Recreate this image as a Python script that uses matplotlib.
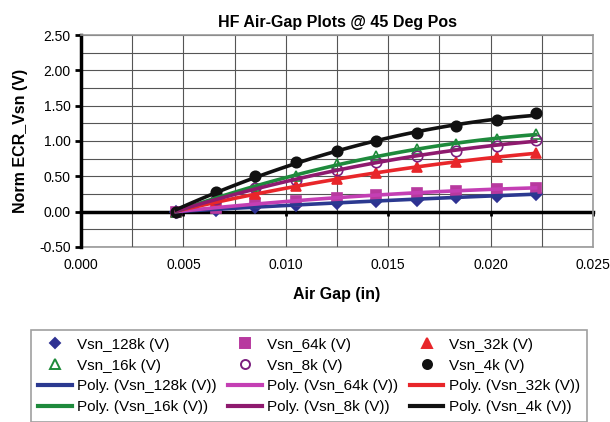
import numpy as np
import matplotlib.pyplot as plt
from matplotlib.ticker import MultipleLocator, FixedLocator, FormatStrFormatter
from matplotlib.lines import Line2D

plt.rcParams['font.family'] = ['Liberation Sans', 'DejaVu Sans']

# air gap (in)
air_gap = [0.00465, 0.0066, 0.0085, 0.0105, 0.0125, 0.0144, 0.0164, 0.0183, 0.0203, 0.0222]

vsn_128k = [0.0, 0.03, 0.07, 0.10, 0.12, 0.15, 0.17, 0.21, 0.22, 0.25]
vsn_64k = [0.0, 0.05, 0.12, 0.15, 0.20, 0.24, 0.26, 0.29, 0.32, 0.34]
vsn_32k = [0.0, 0.14, 0.25, 0.36, 0.46, 0.55, 0.63, 0.70, 0.77, 0.83]
vsn_16k = [0.0, 0.20, 0.37, 0.50, 0.67, 0.79, 0.88, 0.96, 1.03, 1.10]
vsn_8k = [0.0, 0.18, 0.33, 0.45, 0.59, 0.70, 0.79, 0.86, 0.93, 1.01]
vsn_4k = [0.0, 0.28, 0.51, 0.70, 0.86, 1.00, 1.11, 1.21, 1.30, 1.39]

x_ticks = [0.000, 0.005, 0.010, 0.015, 0.020, 0.025]

series = [
    ('Vsn_128k (V)', vsn_128k, 'D', '#2E3192', '#2E3192', '#2B3990'),
    ('Vsn_64k (V)', vsn_64k, 's', '#B8399F', '#B8399F', '#C43FB4'),
    ('Vsn_32k (V)', vsn_32k, '^', '#E8262A', '#E8262A', '#E8262A'),
    ('Vsn_16k (V)', vsn_16k, '^', '#1E8B3A', 'none', '#1E8A3C'),
    ('Vsn_8k (V)', vsn_8k, 'o', '#7B1F7F', 'none', '#8E1A6E'),
    ('Vsn_4k (V)', vsn_4k, 'o', '#111111', '#111111', '#111111'),
]

fig = plt.figure(figsize=(6.1, 4.22), dpi=100)
ax = fig.add_axes([81 / 610, 1 - 247 / 422, 512 / 610, 212 / 422])

x = np.array(air_gap)
pt_handles = []
ln_handles = []
for name, vals, mk, ec, fc, lc in series:
    ms = 6.5 if mk == 'D' else 7.5
    ax.plot(x, vals, linestyle='none', marker=mk, markersize=ms,
            markeredgecolor=ec, markerfacecolor=fc, markeredgewidth=1.2, zorder=3)
    # Excel style 2nd order poly trendline
    coef = np.polyfit(x, vals, 2)
    xs = np.linspace(x[0], x[-1], 100)
    ax.plot(xs, np.polyval(coef, xs), color=lc, lw=2.6, zorder=4)
    pt_handles.append(Line2D([], [], linestyle='none', marker=mk, markersize=ms - 1,
                             markeredgecolor=ec, markerfacecolor=fc, markeredgewidth=1.4))
    ln_handles.append(Line2D([], [], color=lc, lw=3))

ax.set_xlim(0, 0.025)
ax.set_ylim(-0.5, 2.5)

ax.yaxis.set_major_locator(MultipleLocator(0.5))
ax.yaxis.set_minor_locator(MultipleLocator(0.25))
ax.yaxis.set_major_formatter(FormatStrFormatter('%.2f'))
ax.xaxis.set_major_locator(FixedLocator(x_ticks))
ax.xaxis.set_minor_locator(MultipleLocator(0.0025))
ax.grid(True, which='both', color='#555555', lw=0.8, zorder=0)
ax.set_axisbelow(True)

ax.spines['left'].set_color('black')
ax.spines['left'].set_linewidth(2.5)
ax.spines['bottom'].set_position(('data', 0))
ax.spines['bottom'].set_color('black')
ax.spines['bottom'].set_linewidth(2.5)
ax.spines['bottom'].set_zorder(2)
for s in ['top', 'right']:
    ax.spines[s].set_color('#999999')
    ax.spines[s].set_linewidth(1.2)

ax.tick_params(axis='y', which='major', length=4, width=2, color='black', labelsize=10)
ax.tick_params(axis='y', which='minor', length=0)
ax.tick_params(axis='x', which='major', length=3, width=2, color='black', labelbottom=False)
ax.tick_params(axis='x', which='minor', length=0)

sec = ax.secondary_xaxis(0.0)
sec.xaxis.set_major_locator(FixedLocator(x_ticks))
sec.xaxis.set_major_formatter(FormatStrFormatter('%.3f'))
sec.tick_params(length=0, labelsize=10, pad=8)
sec.spines['bottom'].set_color('#999999')
sec.spines['bottom'].set_linewidth(1.2)

ax.set_title('HF Air-Gap Plots @ 45 Deg Pos', fontsize=11.5, fontweight='bold', pad=6)
ax.set_ylabel('Norm ECR_Vsn (V)', fontsize=11.5, fontweight='bold', labelpad=8)
fig.text(337 / 610, 1 - 295 / 422, 'Air Gap (in)', ha='center', va='center',
         fontsize=11.5, fontweight='bold')

labels = [s[0] for s in series]
poly_labels = ['Poly. (' + l + ')' for l in labels]
# legend fills column-wise, order so rows read like the original
order_h = []
order_l = []
for c in range(3):
    for h, l in [(pt_handles[c], labels[c]), (pt_handles[c + 3], labels[c + 3]),
                 (ln_handles[c], poly_labels[c]), (ln_handles[c + 3], poly_labels[c + 3])]:
        order_h.append(h)
        order_l.append(l)

leg = fig.legend(order_h, order_l, ncol=3, loc='lower center',
                 bbox_to_anchor=(309 / 610, 0),
                 fontsize=11, frameon=True, fancybox=False,
                 handlelength=2.2, handletextpad=0.35, columnspacing=0.75,
                 labelspacing=0.45, borderpad=0.5, borderaxespad=0)
leg.get_frame().set_edgecolor('#888888')
leg.get_frame().set_linewidth(1.2)

fig.savefig('out.png', dpi=100)
